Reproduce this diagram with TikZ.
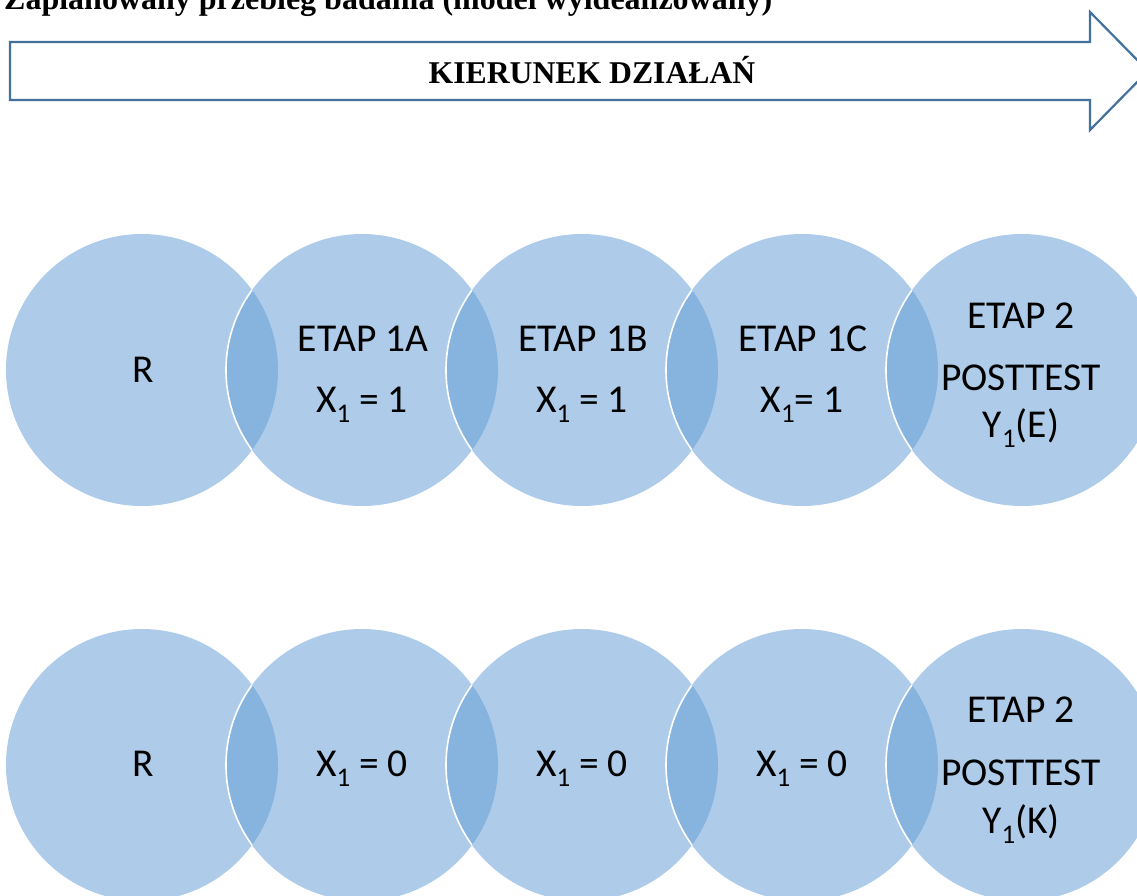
\documentclass[tikz,border=0pt]{standalone}
\usepackage{fontspec}
\setmainfont{Carlito}
\newfontfamily\headfont{Liberation Serif}
\definecolor{discfill}{HTML}{AECCE9}
\definecolor{lensfill}{HTML}{87B3DF}
\definecolor{arrowblue}{HTML}{41719C}
\newcommand{\lowone}{\raisebox{-10pt}{\fontsize{27}{27}\selectfont 1}}
\tikzset{
  disc/.style={circle, minimum size=272pt, inner sep=0pt, fill=discfill},
  lbl/.style={anchor=base, inner sep=0pt, font=\fontsize{39.5}{39.5}\selectfont},
  headtext/.style={inner sep=0pt, font=\headfont\bfseries\fontsize{31.7}{31.7}\selectfont},
  arrowshape/.style={draw=arrowblue, line width=2.2pt, fill=white, line join=miter},
}
\begin{document}
\begin{tikzpicture}[x=1pt, y=-1pt]
  \useasboundingbox (0,0) rectangle (1137,895);
  \clip (0,0) rectangle (1137,895);

  % heading
  \node[headtext, anchor=base west, font=\headfont\bfseries\fontsize{32}{32}\selectfont] (title) at (4,9) {Zaplanowany przebieg badania (model wyidealizowany)};

  % block arrow showing the direction of work
  \draw[arrowshape] (10,42) -- (1090,42) -- (1090,12) -- (1148,71) -- (1090,130) -- (1090,100) -- (10,100) -- cycle;
  \node[headtext] (dir) at (592,70) {KIERUNEK DZIAŁAŃ};

  % two rows of five discs
  \foreach \i/\x in {1/142,2/362,3/582,4/802,5/1022} {
    \node[disc] (a\i) at (\x,370) {};
    \node[disc] (b\i) at (\x,765) {};
  }

  % overlaps between neighbouring discs
  \foreach \r in {a,b} {
    \foreach \i [evaluate=\i as \j using int(\i-1)] in {2,...,5} {
      \begin{scope}
        \clip (\r\j.center) circle (136pt);
        \fill[lensfill] (\r\i.center) circle (136pt);
        \draw[white, line width=1.6pt] (\r\i.center) circle (136pt);
      \end{scope}
    }
  }

  % labels, upper row
  \node[lbl] (ra) at (143,382) {R};
  \node[lbl] (e1a) at (363,351) {ETAP 1A};
  \node[lbl] (x1a) at (362,412) {X\lowone{} = 1};
  \node[lbl] (e1b) at (583,351) {ETAP 1B};
  \node[lbl] (x1b) at (582,412) {X\lowone{} = 1};
  \node[lbl] (e1c) at (803,351) {ETAP 1C};
  \node[lbl] (x1c) at (802,412) {X\lowone= 1};
  \node[lbl] (e2a) at (1021,328) {ETAP 2};
  \node[lbl] (pta) at (1021,390) {POSTTEST};
  \node[lbl] (ya) at (1021,437) {Y\lowone(E)};

  % labels, lower row
  \node[lbl] (rb) at (143,776) {R};
  \node[lbl] (x0a) at (362,776) {X\lowone{} = 0};
  \node[lbl] (x0b) at (582,776) {X\lowone{} = 0};
  \node[lbl] (x0c) at (802,776) {X\lowone{} = 0};
  \node[lbl] (e2b) at (1021,722) {ETAP 2};
  \node[lbl] (ptb) at (1021,785) {POSTTEST};
  \node[lbl] (yb) at (1021,833) {Y\lowone(K)};
\end{tikzpicture}
\end{document}
